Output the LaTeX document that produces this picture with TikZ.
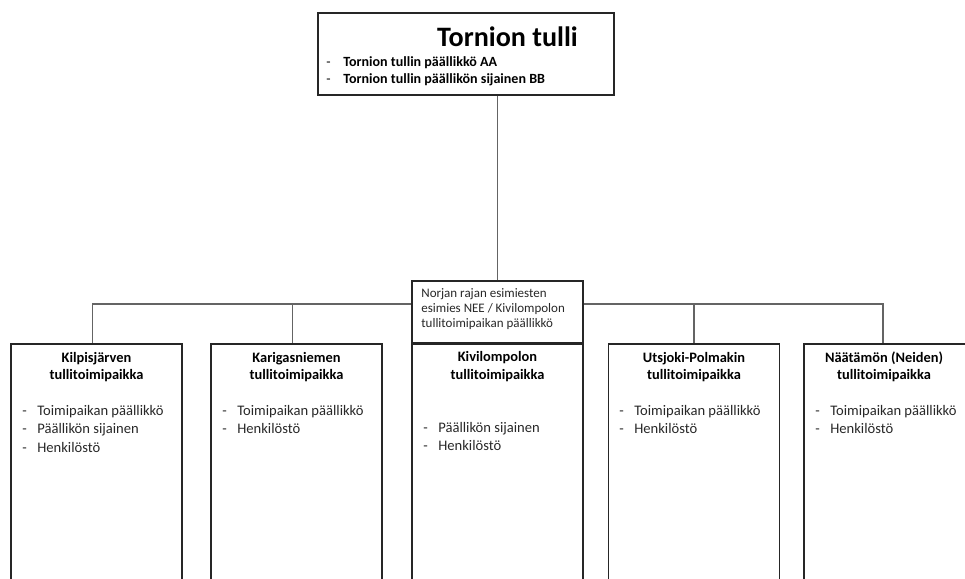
\documentclass[tikz,border=0pt]{standalone}
\usepackage{fontspec}
\setmainfont{Carlito}
\usetikzlibrary{positioning}
\definecolor{boxline}{RGB}{38,38,38}
\definecolor{linkline}{RGB}{100,100,100}
\definecolor{bodytext}{RGB}{40,40,40}
\newcommand{\itm}[1][0.3cm]{\makebox[#1][l]{\mdseries -}}

\begin{document}
\begin{tikzpicture}[x=0.02cm,y=-0.02cm,
  orgbox/.style={draw=boxline, line width=0.85pt, rectangle, fill=white, inner sep=0pt},
  unitbox/.style={orgbox, minimum width=3.42cm, minimum height=5cm, anchor=north},
  link/.style={draw=linkline, line width=0.6pt},
  unittitle/.style={font=\fontsize{8.2}{9.8}\selectfont\bfseries, align=center, inner sep=0pt},
  unititems/.style={font=\fontsize{8.3}{10.5}\selectfont, align=left, anchor=north west, inner sep=0pt, text=bodytext}]
\useasboundingbox (0,0) rectangle (965,579);
% Top box
\node[orgbox, minimum width=5.92cm, minimum height=1.64cm] (tulli) at (466,54) {};
\node[font=\fontsize{16}{19}\selectfont\bfseries, inner sep=0pt] (tulli-name) at (507.5,37) {Tornion tulli};
\node[font=\fontsize{8}{9.8}\selectfont\bfseries, align=left, anchor=west, inner sep=0pt] (tulli-staff) at (326,71)
  {\itm[0.34cm]Tornion tullin päällikkö AA\\ \itm[0.34cm]Tornion tullin päällikön sijainen BB};
% Unit boxes (bottom row)
\foreach \name/\x in {kilp/96.5, kari/296.5, kivi/497.5, utsj/694, naat/889.5}
  \node[unitbox] (\name) at (\x,343) {};
% Middle box
\node[orgbox, minimum width=3.42cm, minimum height=1.24cm] (hub) at (497.5,312) {};
\node[font=\fontsize{7.4}{8.6}\selectfont, align=left, anchor=west, inner sep=0pt, text=bodytext] (hub-text) at (421,309)
  {Norjan rajan esimiesten\\esimies NEE / Kivilompolon\\tullitoimipaikan päällikkö};
% Connectors
\coordinate (bus) at (497.5,304);
\draw[link] (hub.north) -- (hub.north |- tulli.south);
\draw[link] ([xshift=-0.08cm]kilp.north) |- (hub.west |- bus);
\draw[link] ([xshift=-0.13cm]naat.north) |- (hub.east |- bus);
\draw[link] ([xshift=-0.08cm]kari.north) -- ([xshift=-0.08cm]kari.north |- bus);
\draw[link] (utsj.north) -- (utsj.north |- bus);
% Unit texts
\node[unittitle] (kilp-t) at (96.5,367) {Kilpisjärven\\tullitoimipaikka};
\node[unititems] (kilp-i) at (22,405) {\itm Toimipaikan päällikkö\\ \itm Päällikön sijainen\\ \itm Henkilöstö};
\node[unittitle] (kari-t) at (296.5,367) {Karigasniemen\\tullitoimipaikka};
\node[unititems] (kari-i) at (222,405) {\itm Toimipaikan päällikkö\\ \itm Henkilöstö};
\node[unittitle] (kivi-t) at (497.5,366.5) {Kivilompolon\\tullitoimipaikka};
\node[unititems] (kivi-i) at (423,422) {\itm Päällikön sijainen\\ \itm Henkilöstö};
\node[unittitle] (utsj-t) at (694,367) {Utsjoki-Polmakin\\tullitoimipaikka};
\node[unititems] (utsj-i) at (619,405) {\itm Toimipaikan päällikkö\\ \itm Henkilöstö};
\node[unittitle] (naat-t) at (884,367) {Näätämön (Neiden)\\tullitoimipaikka};
\node[unititems] (naat-i) at (815,405) {\itm Toimipaikan päällikkö\\ \itm Henkilöstö};
\end{tikzpicture}
\end{document}
